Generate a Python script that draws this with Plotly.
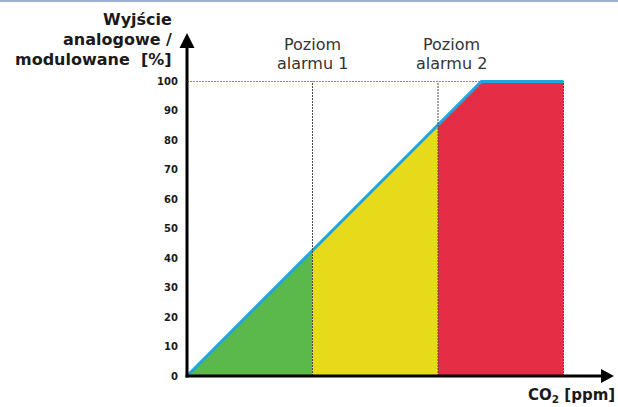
import plotly.graph_objects as go

# ---- data ----
co2_x = [0.0, 1.0, 2.0, 2.346, 3.0]          # relative CO2 scale (alarm1 = 1, alarm2 = 2)
output_pct = [0.0, 42.6, 85.25, 100.0, 100.0]  # analog / modulated output [%]
alarm_levels = [1.0, 2.0]
alarm_label_x = [1.0, 2.105]
alarm_label_top = ["Poziom", "Poziom"]
alarm_label_bottom = ["alarmu 1", "alarmu 2"]
y_ticks = [0, 10, 20, 30, 40, 50, 60, 70, 80, 90, 100]
y_title_lines = ["Wyjście", "analogowe /", "modulowane&nbsp; [%]"]
x_title = "CO<sub>2</sub> [ppm]"

# ---- pixel geometry (layout) ----
W, H = 618, 407
ML, MR, MT, MB = 165, 0, 25, 10
X0PX, Y0PX = 187, 376
PX_PER_X, PX_PER_Y = 125.5, 2.945
PH = H - MT - MB
PW = W - ML - MR


def dx(px):
    return (px - X0PX) / PX_PER_X


def dy(py):
    return (Y0PX - py) / PX_PER_Y


def px_x(px):
    return (px - ML) / PW


def px_y(py):
    return (H - MB - py) / PH


xrange = [dx(ML), dx(W - MR)]
yrange = [dy(H - MB), dy(MT)]

GREEN, YELLOW, RED, BLUE = "#5bb94b", "#e7da1b", "#e52d46", "#1fa6dc"

fig = go.Figure()

# filled zones
a1, a2 = alarm_levels
y_a1 = output_pct[1]
y_a2 = output_pct[2]
fig.add_trace(go.Scatter(x=[co2_x[0], a1, a1, co2_x[0]], y=[output_pct[0], y_a1, 0, 0],
                         fill="toself", fillcolor=GREEN, line=dict(width=0), mode="lines",
                         hoverinfo="skip", showlegend=False))
fig.add_trace(go.Scatter(x=[a1, a1, a2, a2, a1], y=[0, y_a1, y_a2, 0, 0],
                         fill="toself", fillcolor=YELLOW, line=dict(width=0), mode="lines",
                         hoverinfo="skip", showlegend=False))
fig.add_trace(go.Scatter(x=[a2, a2, co2_x[3], co2_x[4], co2_x[4], a2],
                         y=[0, y_a2, output_pct[3], output_pct[4], 0, 0],
                         fill="toself", fillcolor=RED, line=dict(width=0), mode="lines",
                         hoverinfo="skip", showlegend=False))

# dotted guide lines
for a in alarm_levels + [co2_x[4]]:
    fig.add_shape(type="line", x0=a, x1=a, y0=0, y1=100, xref="x", yref="y",
                  line=dict(color="#4a4a4a", width=1, dash="2px,1px"), layer="above")
fig.add_shape(type="line", x0=0, x1=co2_x[3], y0=100, y1=100, xref="x", yref="y",
              line=dict(color="#9a8c48", width=1, dash="2px,1px"), layer="above")

# output line
fig.add_trace(go.Scatter(x=co2_x, y=output_pct, mode="lines",
                         line=dict(color=BLUE, width=3), hoverinfo="skip", showlegend=False))

# axes with arrows
fig.add_shape(type="line", x0=0, x1=0, y0=dy(Y0PX + 1.5), y1=dy(46), xref="x", yref="y",
              line=dict(color="black", width=3), layer="above")
fig.add_shape(type="line", x0=dx(X0PX - 1.5), x1=dx(603), y0=0, y1=0, xref="x", yref="y",
              line=dict(color="black", width=3), layer="above")
fig.add_shape(type="path", xref="x", yref="y", layer="above",
              path=f"M {dx(X0PX - 7.5)},{dy(48)} L {dx(X0PX)},{dy(33)} L {dx(X0PX + 7.5)},{dy(48)} Z",
              fillcolor="black", line=dict(width=0))
fig.add_shape(type="path", xref="x", yref="y", layer="above",
              path=f"M {dx(601)},{dy(Y0PX - 7)} L {dx(614)},{dy(Y0PX)} L {dx(601)},{dy(Y0PX + 7)} Z",
              fillcolor="black", line=dict(width=0))

# top border
fig.add_shape(type="rect", xref="paper", yref="paper",
              x0=px_x(0), x1=1.0, y0=px_y(2), y1=px_y(0),
              fillcolor="#9fb0d3", line=dict(width=0))

ann = []
# y tick labels
for t in y_ticks:
    ann.append(dict(x=0, y=t, xref="x", yref="y", text=str(t), showarrow=False,
                    xanchor="right", yanchor="middle", xshift=-7,
                    font=dict(family="DejaVu Sans", size=10, color="#1a1a1a", weight="bold")))
# y title
for line, py in zip(y_title_lines, [19, 40, 59]):
    ann.append(dict(x=px_x(174), y=px_y(py), xref="paper", yref="paper", text=line,
                    showarrow=False, xanchor="right", yanchor="middle",
                    font=dict(family="DejaVu Sans", size=16, color="#1a1a1a", weight="bold")))
# alarm labels
for lx, top, bot in zip(alarm_label_x, alarm_label_top, alarm_label_bottom):
    ann.append(dict(x=lx, y=px_y(45), xref="x", yref="paper", text=top, showarrow=False,
                    xanchor="center", yanchor="middle",
                    font=dict(family="DejaVu Sans", size=16, color="#333333")))
    ann.append(dict(x=lx, y=px_y(63), xref="x", yref="paper", text=bot, showarrow=False,
                    xanchor="center", yanchor="middle",
                    font=dict(family="DejaVu Sans", size=16, color="#333333")))
# x title
ann.append(dict(x=px_x(617), y=px_y(395), xref="paper", yref="paper", text=x_title,
                showarrow=False, xanchor="right", yanchor="middle",
                font=dict(family="DejaVu Sans", size=15, color="#1a1a1a", weight="bold")))

fig.update_layout(
    width=W, height=H,
    margin=dict(l=ML, r=MR, t=MT, b=MB, pad=0),
    paper_bgcolor="white", plot_bgcolor="white",
    xaxis=dict(range=xrange, visible=False, fixedrange=True),
    yaxis=dict(range=yrange, visible=False, fixedrange=True),
    annotations=ann,
    showlegend=False,
)

fig.write_html("out.html", config={"displayModeBar": False},
               post_script="document.body.style.margin='0';document.body.style.overflow='hidden';")
